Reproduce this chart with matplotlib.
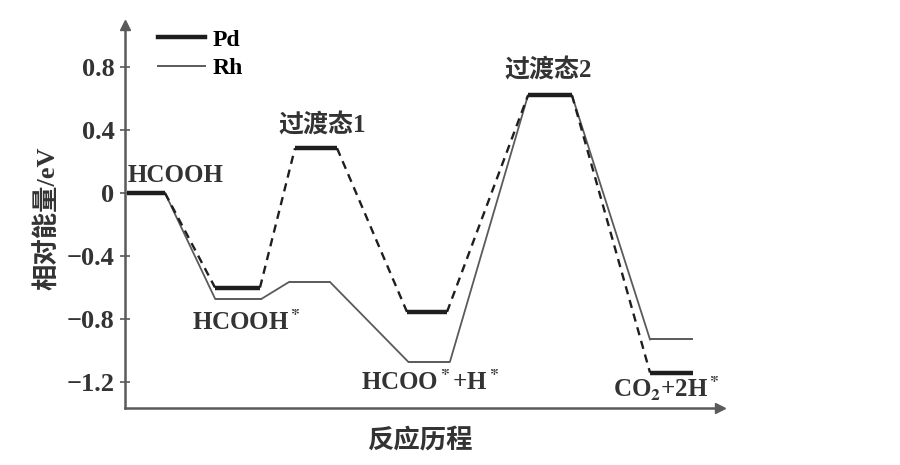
import numpy as np
import matplotlib
matplotlib.use("Agg")
import matplotlib.pyplot as plt
from matplotlib.lines import Line2D

plt.rcParams['font.family'] = ['Liberation Serif', 'Noto Sans CJK SC', 'DejaVu Sans']
plt.rcParams['mathtext.fontset'] = 'stix'

# 各状态的相对能量 (eV)
states = ["HCOOH", "HCOOH$^{\\bf *}$", "过渡态1", "HCOO$^{\\bf *}$+H$^{\\bf *}$", "过渡态2",
          "CO$_{\\bf 2}$+2H$^{\\bf *}$"]
pd_energy = [0.0, -0.60, 0.285, -0.755, 0.62, -1.14]
rh_energy = [0.0, -0.67, -0.565, -1.07, 0.62, -0.93]
yticks = [-1.2, -0.8, -0.4, 0.0, 0.4, 0.8]
ytick_labels = ["−1.2", "−0.8", "−0.4", "0", "0.4", "0.8"]

# 能级横向位置（横轴为任意“反应历程”单位）
pd_x0 = [2, 90, 170, 282, 403, 525]
pd_x1 = [40, 135, 212, 322, 447, 568]
rh_x0 = [2, 90, 164, 283, 403, 525]
rh_x1 = [40, 137, 205, 325, 447, 568]

# 标签位置
lab_x = [3, 121, 197, 305, 423, 541]
lab_y = [0.114, -0.825, 0.43, -1.206, 0.78, -1.238]
lab_ha = ["left", "center", "center", "center", "center", "center"]

ink = "#1e1e1e"
gray = "#5a5a5a"
txt = "#333333"

fig = plt.figure(figsize=(9, 4.65), dpi=100)
ax = fig.add_axes([125/900, 57/465, 595/900, 383/465])
ax.set_xlim(0, 595)
ax.set_ylim(-1.365, 1.067)

# Rh: 细实线
for i in range(len(states)):
    ax.plot([rh_x0[i], rh_x1[i]], [rh_energy[i]]*2, color=gray, lw=1.4,
            solid_capstyle="butt")
    if i > 0:
        ax.plot([rh_x1[i-1], rh_x0[i]], [rh_energy[i-1], rh_energy[i]],
                color=gray, lw=1.3)

# Pd: 粗能级 + 虚线连接
for i in range(len(states)):
    ax.plot([pd_x0[i], pd_x1[i]], [pd_energy[i]]*2, color=ink, lw=3.2,
            solid_capstyle="butt")
    if i > 0:
        ax.plot([pd_x1[i-1], pd_x0[i]], [pd_energy[i-1], pd_energy[i]],
                color=ink, lw=1.7, ls=(0, (3.5, 2.5)))

for s, x, y, ha in zip(states, lab_x, lab_y, lab_ha):
    ax.text(x, y, s, ha=ha, va="center", fontsize=18, color=txt, fontweight="bold")

# 图例
handles = [Line2D([], [], color=ink, lw=3.2),
           Line2D([], [], color=gray, lw=1.4)]
ax.legend(handles, ["Pd", "Rh"], loc="upper left", bbox_to_anchor=(0.02, 1.045),
          frameon=False, handlelength=2.0, handletextpad=0.3,
          labelspacing=0.3, prop={"weight": "bold", "size": 17})

# 坐标轴
for side in ["top", "right"]:
    ax.spines[side].set_visible(False)
for side in ["left", "bottom"]:
    ax.spines[side].set_color(gray)
    ax.spines[side].set_linewidth(1.8)
ax.plot(0, 1, "^", transform=ax.transAxes, color=gray, ms=7, clip_on=False)
ax.plot(1, 0, ">", transform=ax.transAxes, color=gray, ms=7, clip_on=False)

ax.set_xticks([])
ax.set_yticks(yticks)
ax.set_yticklabels(ytick_labels, fontweight="bold")
ax.tick_params(axis="y", direction="inout", length=7, width=1.2, color=gray,
               labelsize=19, labelcolor=txt, pad=4)

ax.set_ylabel("相对能量/eV", fontsize=19, color=txt, fontweight="bold")
ax.yaxis.set_label_coords(-0.109, 0.496)
ax.set_xlabel("反应历程", fontsize=19, color=txt, fontweight="bold")
ax.xaxis.set_label_coords(0.496, -0.05)

plt.savefig("out.png", dpi=100)
